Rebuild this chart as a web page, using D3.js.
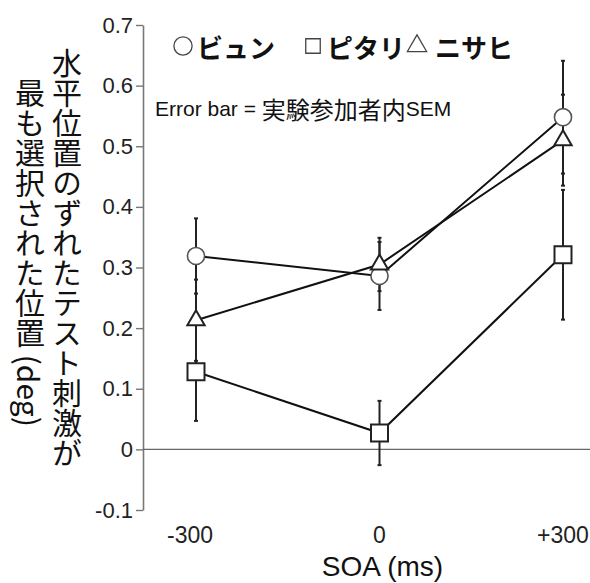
<!DOCTYPE html>
<html>
<head>
<meta charset="utf-8">
<script src="https://cdn.jsdelivr.net/npm/d3@7"></script>
<style>
  body { margin: 0; background: #fff; }
  svg { display: block; }
</style>
</head>
<body>
<div class="chart"></div>
<script>
// data
const soaLabels = ['-300', '0', '+300'];
const seriesNames = ['ビュン', 'ピタリ', 'ニサヒ'];
const bjunMean = [0.319, 0.286, 0.548];
const bjunSem = [0.062, 0.056, 0.093];
const pitariMean = [0.128, 0.027, 0.321];
const pitariSem = [0.081, 0.053, 0.107];
const nisahiMean = [0.213, 0.305, 0.510];
const nisahiSem = [0.067, 0.044, 0.075];
const yTickValues = [-0.1, 0, 0.1, 0.2, 0.3, 0.4, 0.5, 0.6, 0.7];
const yTickLabels = ['-0.1', '0', '0.1', '0.2', '0.3', '0.4', '0.5', '0.6', '0.7'];

const width = 590, height = 583;
const latin = '"Liberation Sans", Arial, "Noto Sans CJK JP", sans-serif';
const jp = '"Noto Sans CJK JP", sans-serif';

const svg = d3.select('.chart').append('svg')
    .attr('width', width).attr('height', height);

const x = d3.scalePoint().domain(soaLabels).range([196, 563]);
const y = d3.scaleLinear().domain([-0.1, 0.7]).range([510, 25]);
const axisX = 143;

// y axis
const yAxis = svg.append('g')
    .attr('transform', 'translate(' + axisX + ',0)')
    .call(d3.axisLeft(y).tickValues(yTickValues).tickSize(7).tickSizeOuter(0)
        .tickFormat((d, i) => yTickLabels[i]));
yAxis.select('.domain').attr('stroke', '#777').attr('stroke-width', 1.6);
yAxis.selectAll('.tick line').attr('stroke', '#777').attr('stroke-width', 1.4);
yAxis.selectAll('.tick text')
    .attr('x', -10)
    .style('font-family', latin).style('font-size', '22px').attr('fill', '#222');

// zero line
svg.append('line')
    .attr('x1', axisX).attr('x2', width)
    .attr('y1', y(0)).attr('y2', y(0))
    .attr('stroke', '#666').attr('stroke-width', 1.4);

// x tick labels (no axis line in the original)
svg.append('g').selectAll('text')
    .data(soaLabels)
    .join('text')
    .attr('x', d => x(d) - (d === '-300' ? 6 : 0))
    .attr('y', 543)
    .attr('text-anchor', 'middle')
    .style('font-family', latin).style('font-size', '23px').attr('fill', '#222')
    .text(d => d);

svg.append('text')
    .attr('x', x('0') + 3).attr('y', 576)
    .attr('text-anchor', 'middle')
    .style('font-family', latin).style('font-size', '28px').attr('fill', '#111')
    .text('SOA (ms)');

// vertical japanese y label, two columns
const ylab = [
    { t: '水平位置のずれたテスト刺激が', cx: 67, top: 48 },
    { t: '最も選択された位置 (deg)', cx: 30, top: 78 }
];
svg.append('g').selectAll('text')
    .data(ylab)
    .join('text')
    .attr('x', d => d.cx).attr('y', d => d.top)
    .style('writing-mode', 'vertical-rl')
    .style('font-family', jp).style('font-size', '30px').attr('fill', '#111')
    .text(d => d.t);

const series = [
    { name: seriesNames[0], mean: bjunMean, sem: bjunSem, sym: d3.symbolCircle, size: 230 },
    { name: seriesNames[1], mean: pitariMean, sem: pitariSem, sym: d3.symbolSquare, size: 289 },
    { name: seriesNames[2], mean: nisahiMean, sem: nisahiSem, sym: d3.symbolTriangle, size: 130 }
];

const line = d3.line().x((d, i) => x(soaLabels[i])).y(d => y(d));

// lines
svg.append('g').selectAll('path')
    .data(series)
    .join('path')
    .attr('d', s => line(s.mean))
    .attr('fill', 'none').attr('stroke', '#111').attr('stroke-width', 2);

// error bars
series.forEach(s => {
    const g = svg.append('g').attr('stroke', '#222').attr('stroke-width', 2);
    s.mean.forEach((m, i) => {
        const cx = x(soaLabels[i]);
        g.append('line').attr('x1', cx).attr('x2', cx)
            .attr('y1', y(m - s.sem[i])).attr('y2', y(m + s.sem[i]));
        [m - s.sem[i], m + s.sem[i]].forEach(v => {
            g.append('line').attr('x1', cx - 2).attr('x2', cx + 2)
                .attr('y1', y(v)).attr('y2', y(v));
        });
    });
});

// markers
series.forEach(s => {
    svg.append('g').selectAll('path')
        .data(s.mean)
        .join('path')
        .attr('transform', (d, i) => 'translate(' + x(soaLabels[i]) + ',' + y(d) + ')')
        .attr('d', d3.symbol().type(s.sym).size(s.size))
        .attr('fill', '#fff')
        .attr('stroke', s.sym === d3.symbolCircle ? '#555' : '#222')
        .attr('stroke-width', s.sym === d3.symbolCircle ? 1.6 : 2);
});

// legend
const legendPos = [{ sx: 183, tx: 197 }, { sx: 313, tx: 327 }, { sx: 417, tx: 435 }];
const lg = svg.append('g');
series.forEach((s, i) => {
    lg.append('path')
        .attr('transform', 'translate(' + legendPos[i].sx + ',46)')
        .attr('d', d3.symbol().type(s.sym).size(s.sym === d3.symbolSquare ? 210 : s.sym === d3.symbolCircle ? 260 : 160))
        .attr('fill', 'none').attr('stroke', '#444').attr('stroke-width', 1.3);
    lg.append('text')
        .attr('x', legendPos[i].tx).attr('y', 46)
        .attr('dominant-baseline', 'central')
        .style('font-family', jp).style('font-size', '26px').style('font-weight', 700)
        .attr('fill', '#111')
        .text(s.name);
});

const note = svg.append('text')
    .attr('x', 155).attr('y', 108)
    .attr('dominant-baseline', 'central')
    .style('font-family', latin).style('font-size', '21px').attr('fill', '#111');
note.append('tspan').text('Error bar = ');
note.append('tspan').style('font-family', jp).style('font-size', '24px').text('実験参加者内');
note.append('tspan').text('SEM');
</script>
</body>
</html>
